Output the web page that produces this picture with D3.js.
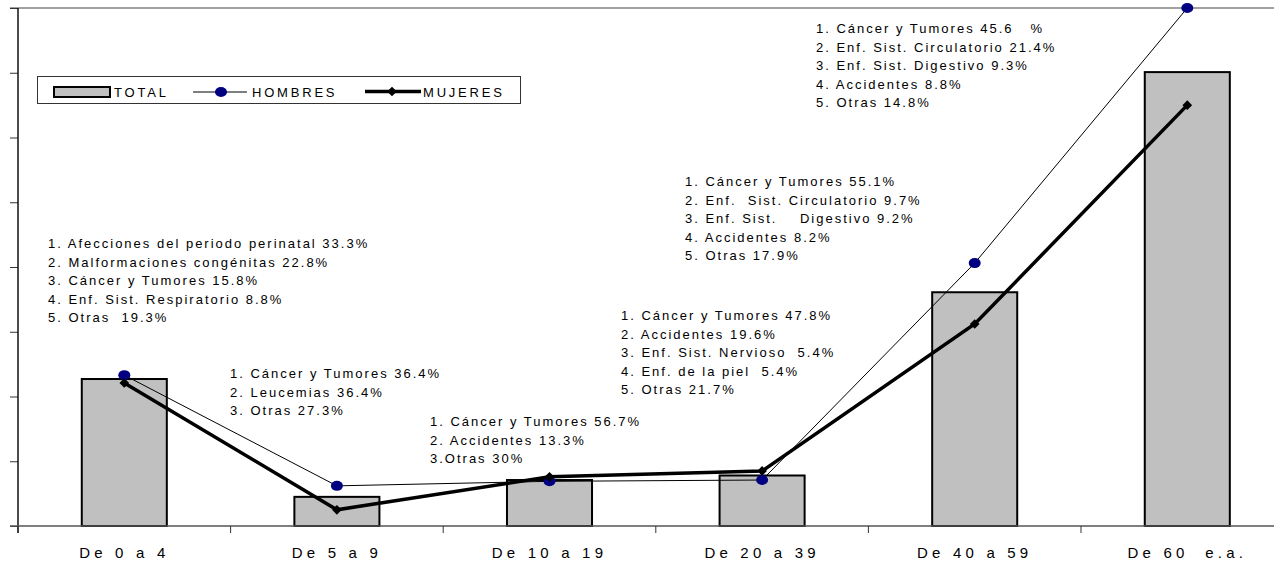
<!DOCTYPE html>
<html>
<head>
<meta charset="utf-8">
<script src="https://cdn.jsdelivr.net/npm/d3@7"></script>
<style>
  html, body { margin: 0; padding: 0; background: #fff; }
  svg { display: block; font-family: "Liberation Sans", Arial, sans-serif; }
  .note text { white-space: pre; }
</style>
</head>
<body>
<svg id="chart" width="1274" height="563"></svg>
<script>
// Grupos de edad
const categories = ["De 0 a 4", "De 5 a 9", "De 10 a 19", "De 20 a 39", "De 40 a 59", "De 60  e.a."];
// Tasas por grupo de edad
const total   = [22.7, 4.5, 7.1, 7.8, 36.1, 70.1];
const hombres = [23.3, 6.2, 6.9, 7.1, 40.6, 80.0];
const mujeres = [22.1, 2.5, 7.6, 8.5, 31.2, 65.0];
const yTicks = [0, 10, 20, 30, 40, 50, 60, 70, 80];

// Principales causas por grupo
const notes = [
  ["1. Afecciones del periodo perinatal 33.3%", "2. Malformaciones congénitas 22.8%", "3. Cáncer y Tumores 15.8%", "4. Enf. Sist. Respiratorio 8.8%", "5. Otras  19.3%"],
  ["1. Cáncer y Tumores 36.4%", "2. Leucemias 36.4%", "3. Otras 27.3%"],
  ["1. Cáncer y Tumores 56.7%", "2. Accidentes 13.3%", "3.Otras 30%"],
  ["1. Cáncer y Tumores 47.8%", "2. Accidentes 19.6%", "3. Enf. Sist. Nervioso  5.4%", "4. Enf. de la piel  5.4%", "5. Otras 21.7%"],
  ["1. Cáncer y Tumores 55.1%", "2. Enf.  Sist. Circulatorio 9.7%", "3. Enf. Sist.    Digestivo 9.2%", "4. Accidentes 8.2%", "5. Otras 17.9%"],
  ["1. Cáncer y Tumores 45.6   %", "2. Enf. Sist. Circulatorio 21.4%", "3. Enf. Sist. Digestivo 9.3%", "4. Accidentes 8.8%", "5. Otras 14.8%"]
];
const notePos = [[48, 248], [230, 378], [430, 426], [621, 320], [685, 186], [816, 33]];

const svg = d3.select("#chart");
const plotLeft = 18, plotRight = 1293.6, plotTop = 8, plotBottom = 526;

const x = d3.scaleBand().domain(categories).range([plotLeft, plotRight]).paddingInner(0.6).paddingOuter(0.3);
const y = d3.scaleLinear().domain([0, 80]).range([plotBottom, plotTop]);
const cx = c => x(c) + x.bandwidth() / 2;

// Borde superior del área de trazado
svg.append("line").attr("x1", 10).attr("x2", 1274).attr("y1", y(80)).attr("y2", y(80))
  .attr("stroke", "#808080").attr("stroke-width", 1.5);

// Eje Y con marcas sin etiquetas
const yAxis = svg.append("g").attr("transform", `translate(${plotLeft},0)`)
  .call(d3.axisLeft(y).tickValues(yTicks).tickSize(8).tickFormat(""));
yAxis.select(".domain").remove();
yAxis.selectAll(".tick line").attr("stroke", "#333").attr("stroke-width", 1);
svg.append("line").attr("x1", plotLeft).attr("x2", plotLeft).attr("y1", plotTop).attr("y2", plotBottom + 7)
  .attr("stroke", "#111").attr("stroke-width", 1.5);

// Barras TOTAL
svg.append("g").selectAll("rect").data(categories).join("rect")
  .attr("x", d => x(d)).attr("width", x.bandwidth())
  .attr("y", (d, i) => y(total[i])).attr("height", (d, i) => y(0) - y(total[i]))
  .attr("fill", "#c0c0c0").attr("stroke", "#000").attr("stroke-width", 2);

// Línea base y marcas del eje X
svg.append("line").attr("x1", 10).attr("x2", 1274).attr("y1", y(0)).attr("y2", y(0))
  .attr("stroke", "#555").attr("stroke-width", 1.5);
const bounds = categories.map(c => x(c) - x.step() * x.paddingOuter());
svg.append("g").selectAll("line").data(bounds).join("line")
  .attr("x1", d => d).attr("x2", d => d).attr("y1", y(0)).attr("y2", y(0) + 7)
  .attr("stroke", "#333").attr("stroke-width", 1);

// Etiquetas de categoría
svg.append("g").selectAll("text").data(categories).join("text")
  .attr("x", d => cx(d)).attr("y", 558).attr("text-anchor", "middle")
  .attr("font-size", 15).attr("letter-spacing", 4.2).style("white-space", "pre")
  .attr("fill", "#000").text(d => d);

// HOMBRES
const lineH = d3.line().x((d, i) => cx(categories[i])).y(d => y(d));
svg.append("path").attr("d", lineH(hombres)).attr("fill", "none").attr("stroke", "#000").attr("stroke-width", 1);
svg.append("g").selectAll("ellipse").data(hombres).join("ellipse")
  .attr("cx", (d, i) => cx(categories[i])).attr("cy", d => y(d)).attr("rx", 6).attr("ry", 5)
  .attr("fill", "#000080");

// MUJERES
svg.append("path").attr("d", lineH(mujeres)).attr("fill", "none").attr("stroke", "#000")
  .attr("stroke-width", 3.5).attr("stroke-linejoin", "miter");
const diamond = d3.symbol().type(d3.symbolDiamond2).size(60);
svg.append("g").selectAll("path").data(mujeres).join("path")
  .attr("transform", (d, i) => `translate(${cx(categories[i])},${y(d)})`)
  .attr("d", diamond).attr("fill", "#000");

// Textos de causas
notes.forEach((lines, k) => {
  const g = svg.append("g").attr("class", "note");
  g.selectAll("text").data(lines).join("text")
    .attr("x", notePos[k][0]).attr("y", (d, i) => notePos[k][1] + i * 18.5)
    .attr("font-size", 13).attr("letter-spacing", 2.0).attr("fill", "#000")
    .text(d => d);
});

// Leyenda
const lg = svg.append("g");
lg.append("rect").attr("x", 37.5).attr("y", 76.5).attr("width", 483).attr("height", 27)
  .attr("fill", "#fff").attr("stroke", "#333").attr("stroke-width", 1);
lg.append("rect").attr("x", 54).attr("y", 87).attr("width", 56).attr("height", 10)
  .attr("fill", "#c0c0c0").attr("stroke", "#000").attr("stroke-width", 2);
lg.append("line").attr("x1", 193).attr("x2", 247).attr("y1", 92).attr("y2", 92).attr("stroke", "#000").attr("stroke-width", 1);
lg.append("ellipse").attr("cx", 221).attr("cy", 92).attr("rx", 6).attr("ry", 5).attr("fill", "#000080");
lg.append("line").attr("x1", 365).attr("x2", 421).attr("y1", 91.5).attr("y2", 91.5).attr("stroke", "#000").attr("stroke-width", 3.5);
lg.append("path").attr("transform", "translate(392,91.5)").attr("d", diamond).attr("fill", "#000");
[["TOTAL", 114], ["HOMBRES", 252], ["MUJERES", 423]].forEach(([t, px]) => {
  lg.append("text").attr("x", px).attr("y", 96.5).attr("font-size", 13).attr("letter-spacing", 2.8)
    .attr("fill", "#000").text(t);
});
</script>
</body>
</html>
